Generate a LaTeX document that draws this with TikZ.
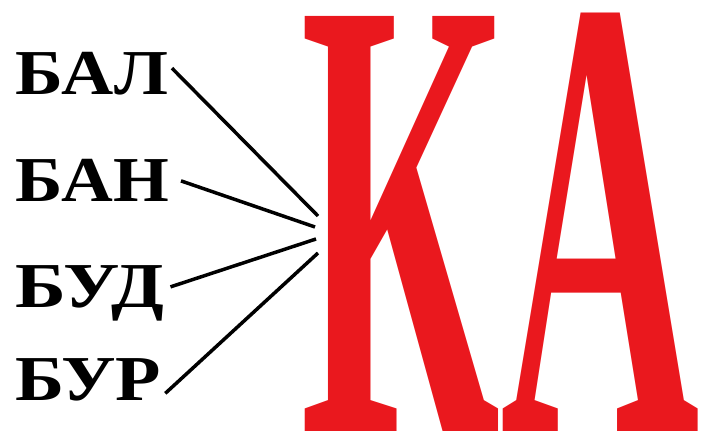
\documentclass[tikz,border=0pt]{standalone}
\usepackage{fontspec}
\setmainfont{Liberation Serif}
\usepackage{graphicx}
\definecolor{kared}{RGB}{234,24,30}
\begin{document}
\begin{tikzpicture}[x=1pt,y=-1pt,
  word/.style={anchor=base west,inner sep=0pt,outer sep=0pt,font=\fontsize{64}{64}\selectfont\bfseries},
  link/.style={line width=3.5pt,black}]
\useasboundingbox (0,0) rectangle (709,446);
\node[word] (w1) at (15,95) {\scalebox{1.13}[1]{БАЛ}};
\node[word] (w2) at (15,202) {\scalebox{1.12}[1]{БАН}};
\node[word] (w3) at (15,307) {\scalebox{1.2}[1]{БУД}};
\node[word] (w4) at (15,400) {\scalebox{1.16}[1]{БУР}};
\node[anchor=north west,inner sep=0pt,text=kared,font=\bfseries] (ka) at (300,13)
  {\resizebox{400pt}{418pt}{КА}};
\coordinate (s1) at ([shift={(4,-6)}]w1.east);
\coordinate (s2) at ([shift={(12,0)}]w2.east);
\coordinate (s3) at ([shift={(6,-6)}]w3.east);
\coordinate (s4) at ([shift={(4,14)}]w4.east);
\coordinate (e1) at (318,216);
\coordinate (e2) at (315,227);
\coordinate (e3) at (316,239);
\coordinate (e4) at (318,253);
\draw[link] (s1) -- (e1);
\draw[link] (s2) -- (e2);
\draw[link] (s3) -- (e3);
\draw[link] (s4) -- (e4);
\end{tikzpicture}
\end{document}
